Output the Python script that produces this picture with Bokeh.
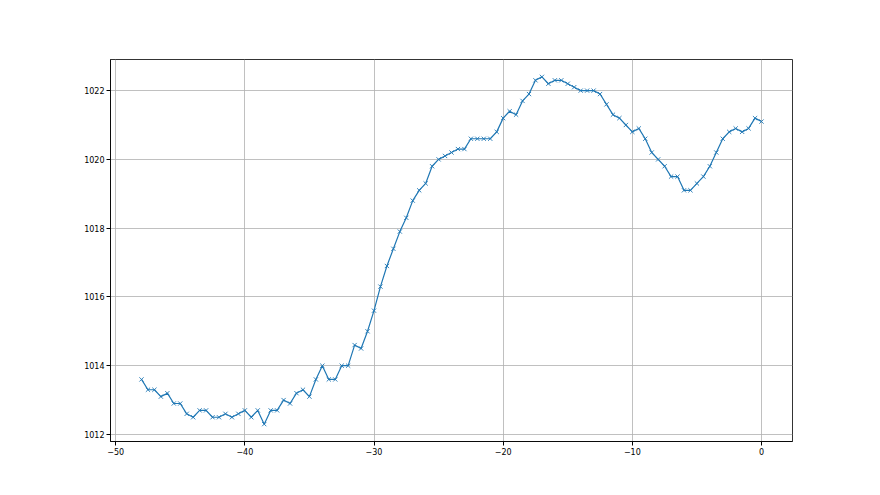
from bokeh.plotting import figure
from bokeh.models import FixedTicker, Range1d
from bokeh.embed import file_html
from bokeh.resources import INLINE

hours = [-48 + 0.5 * i for i in range(97)]
pressure = [
    1013.6, 1013.3, 1013.3, 1013.1, 1013.2, 1012.9, 1012.9, 1012.6, 1012.5, 1012.7,
    1012.7, 1012.5, 1012.5, 1012.6, 1012.5, 1012.6, 1012.7, 1012.5, 1012.7, 1012.3,
    1012.7, 1012.7, 1013.0, 1012.9, 1013.2, 1013.3, 1013.1, 1013.6, 1014.0, 1013.6,
    1013.6, 1014.0, 1014.0, 1014.6, 1014.5, 1015.0, 1015.6, 1016.3, 1016.9, 1017.4,
    1017.9, 1018.3, 1018.8, 1019.1, 1019.3, 1019.8, 1020.0, 1020.1, 1020.2, 1020.3,
    1020.3, 1020.6, 1020.6, 1020.6, 1020.6, 1020.8, 1021.2, 1021.4, 1021.3, 1021.7,
    1021.9, 1022.3, 1022.4, 1022.2, 1022.3, 1022.3, 1022.2, 1022.1, 1022.0, 1022.0,
    1022.0, 1021.9, 1021.6, 1021.3, 1021.2, 1021.0, 1020.8, 1020.9, 1020.6, 1020.2,
    1020.0, 1019.8, 1019.5, 1019.5, 1019.1, 1019.1, 1019.3, 1019.5, 1019.8, 1020.2,
    1020.6, 1020.8, 1020.9, 1020.8, 1020.9, 1021.2, 1021.1,
]
x_ticks = [-50, -40, -30, -20, -10, 0]
y_ticks = [1012, 1014, 1016, 1018, 1020, 1022]

xmin, xmax = min(hours), max(hours)
ymin, ymax = min(pressure), max(pressure)
xm = 0.05 * (xmax - xmin)
ym = 0.05 * (ymax - ymin)

p = figure(width=872, height=487, output_backend="svg", toolbar_location=None,
           x_range=Range1d(xmin - xm, xmax + xm), y_range=Range1d(ymin - ym, ymax + ym),
           min_border_left=110, min_border_right=80, min_border_top=59, min_border_bottom=46)
p.background_fill_color = "white"
p.border_fill_color = "white"
p.outline_line_color = "black"
p.outline_line_width = 0.8
p.outline_line_alpha = 1

p.line(hours, pressure, line_color="#1f77b4", line_width=1.2)
p.scatter(hours, pressure, marker="x", size=6, line_color="#1f77b4", line_width=0.9)

def minus(v):
    return ("\u2212" + str(abs(v))) if v < 0 else str(v)

p.xaxis.ticker = FixedTicker(ticks=x_ticks)
p.yaxis.ticker = FixedTicker(ticks=y_ticks)
p.xaxis.major_label_overrides = {v: minus(v) for v in x_ticks}
for ax in (p.xaxis, p.yaxis):
    ax.minor_tick_line_color = None
    ax.major_tick_in = 0
    ax.major_tick_out = 4
    ax.major_tick_line_color = "black"
    ax.axis_line_color = "black"
    ax.axis_line_width = 0.8
    ax.major_label_text_font = "DejaVu Sans"
    ax.major_label_text_font_size = "8px"
    ax.major_label_text_color = "black"
    ax.major_label_standoff = 2
p.grid.grid_line_color = "#b0b0b0"
p.grid.grid_line_width = 0.8

open("out.html", "w").write(file_html(p, INLINE))
